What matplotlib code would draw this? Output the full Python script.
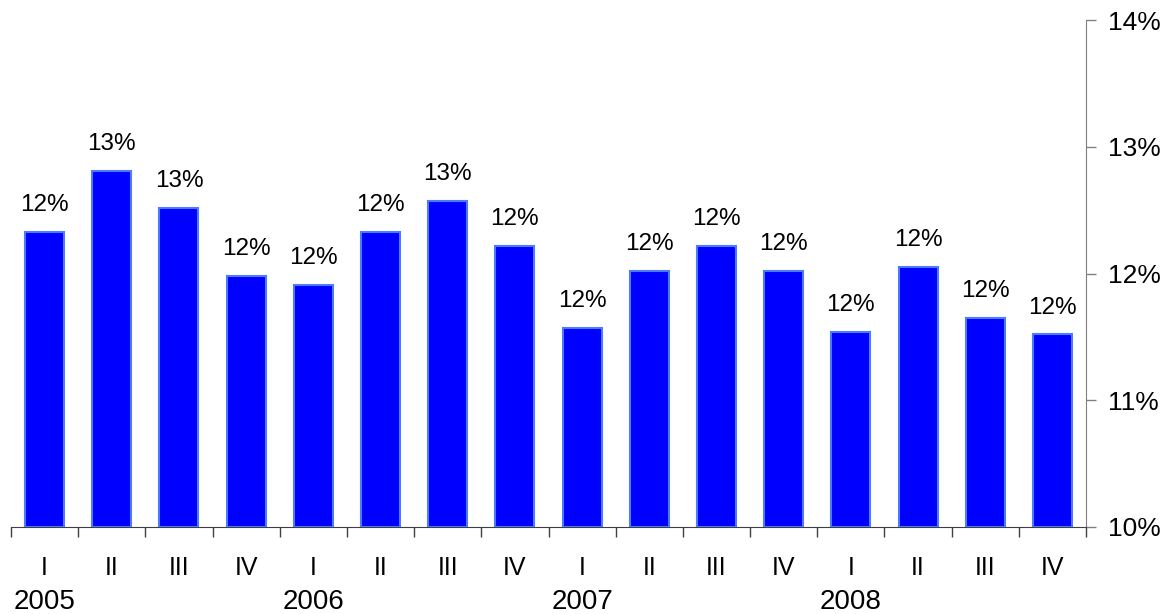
import numpy as np
import matplotlib.pyplot as plt
from matplotlib import transforms

plt.rcParams['font.family'] = ['Liberation Sans', 'DejaVu Sans']

# quarterly values in percent, 2005 I .. 2008 IV
quarters = ["I", "II", "III", "IV"] * 4
years = ["2005", "2006", "2007", "2008"]
values = [12.33, 12.81, 12.52, 11.98,
          11.91, 12.33, 12.57, 12.22,
          11.57, 12.02, 12.22, 12.02,
          11.54, 12.05, 11.65, 11.52]
y_ticks = [10, 11, 12, 13, 14]

fig = plt.figure(figsize=(11.76, 6.14), dpi=100)
W, H = 1176, 614
ax = fig.add_axes([11 / W, (H - 527) / H, (1086 - 11) / W, (527 - 20) / H])

x = np.arange(len(values))
ax.bar(x, [v - 10 for v in values], bottom=10, width=0.58,
       color="#0000ff", edgecolor="#4d7bff", linewidth=1.5, zorder=2)

for xi, v in zip(x, values):
    ax.annotate(f"{v:.0f}%", (xi, v), xytext=(0, 15), textcoords="offset points",
                ha="center", va="baseline", fontsize=17.5)

ax.set_xlim(-0.5, len(values) - 0.5)
ax.set_ylim(10, 14)

# y axis on the right
ax.yaxis.tick_right()
ax.set_yticks(y_ticks)
ax.set_yticklabels([f"{t}%" for t in y_ticks], fontsize=19)
ax.tick_params(axis="y", direction="out", length=7, width=1, color="#808080", pad=9)

# x axis: ticks at boundaries, labels at centres
ax.set_xticks(np.arange(-0.5, len(values), 1.0))
ax.set_xticklabels([])
ax.tick_params(axis="x", which="major", direction="out", length=7, width=1, color="#404040")
ax.set_xticks(x, minor=True)
ax.set_xticklabels(quarters, minor=True, fontsize=18)
ax.tick_params(axis="x", which="minor", length=0, pad=21)

trans = transforms.blended_transform_factory(ax.transData, ax.transAxes)
for i, yr in enumerate(years):
    ax.text(i * 4, -0.147, yr, transform=trans, ha="center", va="center", fontsize=20)

for s in ["left", "top"]:
    ax.spines[s].set_visible(False)
ax.spines["right"].set_color("#808080")
ax.spines["bottom"].set_color("#404040")

fig.savefig("out.png", dpi=100)
